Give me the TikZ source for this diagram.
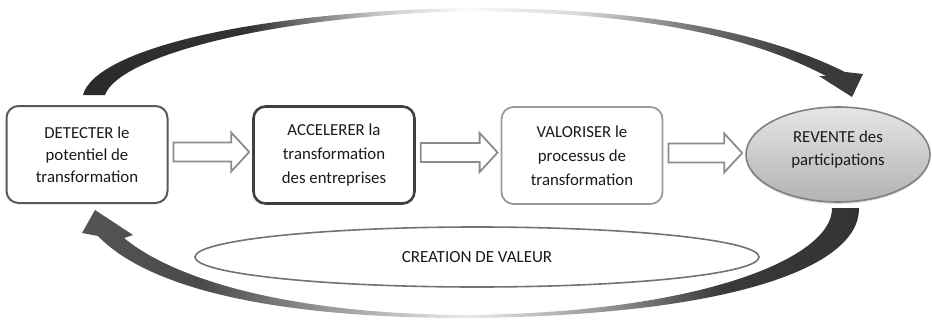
\documentclass[tikz,border=0pt]{standalone}
\usepackage{fontspec}
\setmainfont{Carlito}
\usetikzlibrary{shapes.geometric,calc,shadows}
\definecolor{txt}{HTML}{1A1A1A}
\definecolor{tA}{HTML}{2A2A2A}
\definecolor{tB}{HTML}{333333}
\definecolor{tC}{HTML}{C8C8C8}
\definecolor{tD}{HTML}{FAFAFA}
\definecolor{tE}{HTML}{D8D8D8}
\definecolor{tF}{HTML}{707070}
\definecolor{tG}{HTML}{3A3A3A}
\definecolor{bA}{HTML}{555555}
\definecolor{bB}{HTML}{4A4A4A}
\definecolor{bC}{HTML}{9A9A9A}
\definecolor{bD}{HTML}{EAEAEA}
\definecolor{bE}{HTML}{999999}
\definecolor{bF}{HTML}{3A3A3A}
\definecolor{bG}{HTML}{333333}
\pgfdeclarehorizontalshading{topfade}{100bp}{color(0bp)=(tA); color(25bp)=(tA); color(35.7bp)=(tB); color(44bp)=(tC); color(49.5bp)=(tD); color(56.8bp)=(tE); color(64.5bp)=(tF); color(70.9bp)=(tG); color(75bp)=(tG); color(100bp)=(tG)}
\pgfdeclarehorizontalshading{botfade}{100bp}{color(0bp)=(bA); color(25bp)=(bA); color(32.6bp)=(bB); color(41bp)=(bC); color(49.7bp)=(bD); color(58.3bp)=(bE); color(66bp)=(bF); color(75bp)=(bG); color(100bp)=(bG)}
\newcommand\blkarrow[2]{%
  \draw[blk] let \p1=(#1.east), \p2=(#2.west) in
    (\x1+5pt,\y1+12pt) -- (\x2-21pt,\y1+12pt) -- (\x2-21pt,\y1+22pt) --
    (\x2-3pt,\y1+2.5pt) -- (\x2-21pt,\y1-17pt) -- (\x2-21pt,\y1-7pt) --
    (\x1+5pt,\y1-7pt) -- cycle;}
\begin{document}
\begin{tikzpicture}[x=1pt,y=-1pt,
  every node/.style={text=txt},
  box/.style={rounded corners=12pt, minimum width=161pt, minimum height=97pt,
    align=center, fill=white, inner sep=2pt,
    font=\fontsize{16.8}{24}\selectfont},
  blk/.style={draw=black!45, line width=1.8pt, fill=white, line join=miter}]
\useasboundingbox (0,0) rectangle (932,324);
\fill[white] (0,0) rectangle (932,324);

% curved arrows
\path[shading=topfade]
  (83,95) .. controls (95,50) and (250,12) .. (466,8)
  .. controls (640,8) and (760,30) .. (845,72)
  -- (863,74) -- (852,97) -- (819,76) -- (826,76)
  .. controls (750,36) and (640,12) .. (466,11)
  .. controls (260,17) and (118,58) .. (105,95) -- cycle;
\path[shading=botfade]
  (859,208) .. controls (860,270) and (720,316) .. (466,318)
  .. controls (280,318) and (150,290) .. (98,236)
  -- (82,233) -- (95,210) -- (133,235) -- (124,238)
  .. controls (175,280) and (290,314) .. (466,315)
  .. controls (700,313) and (833,258) .. (832,208) -- cycle;

% creation de valeur
\node[ellipse, draw=black!55, line width=1.6pt, fill=white,
  minimum width=564pt, minimum height=60pt,
  font=\fontsize{17}{20}\selectfont] (cdv) at (477,257) {CREATION DE VALEUR};

% boxes
\node[box, draw=black!65, line width=2pt, font=\fontsize{16.8}{22}\selectfont]
  (b1) at (87,154.5) {DETECTER le\\potentiel de\\transformation};
\node[box, draw=black!75, line width=2.6pt] (b2) at (334,155)
  {ACCELERER la\\transformation\\des entreprises};
\node[box, draw=black!40, line width=1.8pt] (b3) at (582,155.5)
  {VALORISER le\\processus de\\transformation};

% revente ellipse
\node[ellipse, draw=black!50, line width=1.6pt, top color=black!10,
  bottom color=black!30, minimum width=184pt, minimum height=95pt,
  drop shadow={shadow xshift=0pt, shadow yshift=-2pt, opacity=0.25}]
  (rev) at (838,154.5) {};
\node[align=center, font=\fontsize{16.8}{23}\selectfont] (revtext)
  at ([yshift=5pt]rev.center) {REVENTE des\\participations};

% block arrows
\blkarrow{b1}{b2}
\blkarrow{b2}{b3}
\blkarrow{b3}{rev}
\end{tikzpicture}
\end{document}
